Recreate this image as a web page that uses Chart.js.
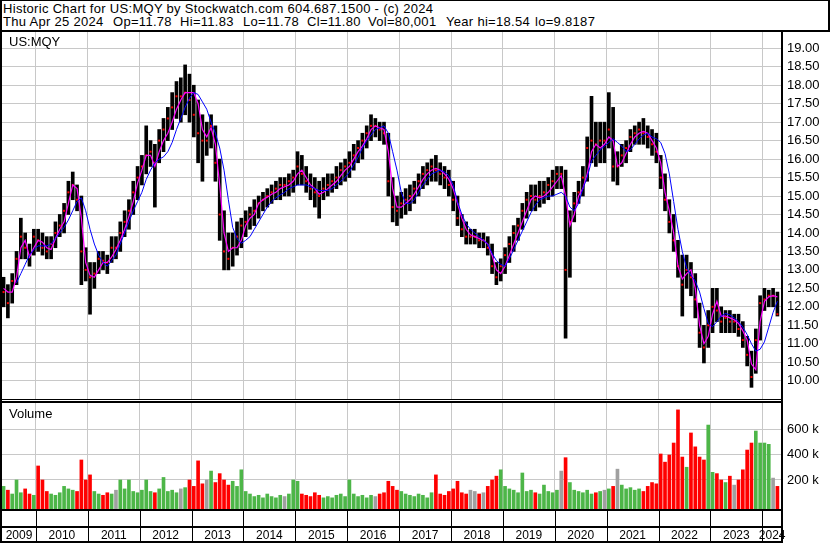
<!DOCTYPE html>
<html>
<head>
<meta charset="utf-8">
<script src="https://cdn.jsdelivr.net/npm/chart.js@4.4.1/dist/chart.umd.min.js"></script>
<style>
  html, body { margin: 0; padding: 0; background: #fff; }
  #page { position: relative; width: 830px; height: 543px; overflow: hidden;
          font-family: "Liberation Sans", Arial, sans-serif; color: #000; }
  .hd { position: absolute; white-space: pre; font-size: 13px; line-height: 13px; letter-spacing: 0.3px; }
  .lbl { position: absolute; white-space: pre; font-size: 13px; line-height: 13px; }
  .ln { position: absolute; background: #000; }
  canvas { position: absolute; left: 0; }
</style>
</head>
<body>
<div id="page">
  <canvas id="priceChart" width="830" height="368" style="top:32px"></canvas>
  <canvas id="volChart" width="830" height="140" style="top:403px"></canvas>

  <!-- header -->
  <div class="hd" style="left:3px;top:2px">Historic Chart for US:MQY by Stockwatch.com 604.687.1500 - (c) 2024</div>
  <div class="hd" style="left:3px;top:15px">Thu Apr 25 2024</div>
  <div class="hd" style="left:113px;top:15px">Op=11.78</div>
  <div class="hd" style="left:180px;top:15px">Hi=11.83</div>
  <div class="hd" style="left:243px;top:15px">Lo=11.78</div>
  <div class="hd" style="left:307px;top:15px">Cl=11.80</div>
  <div class="hd" style="left:368px;top:15px">Vol=80,001</div>
  <div class="hd" style="left:446px;top:15px">Year hi=18.54</div>
  <div class="hd" style="left:535px;top:15px">lo=9.8187</div>

  <div class="lbl" style="left:9px;top:35px">US:MQY</div>
  <div class="lbl" style="left:9px;top:407px">Volume</div>

  <!-- frame lines -->
  <div class="ln" style="left:0;top:0;width:830px;height:1px"></div>
  <div class="ln" style="left:828px;top:0;width:2px;height:32px"></div>
  <div class="ln" style="left:0;top:30px;width:830px;height:2px"></div>
  <div class="ln" style="left:0;top:0;width:2px;height:543px"></div>
  <div class="ln" style="left:781px;top:30px;width:2px;height:513px"></div>
  <div class="ln" style="left:0;top:399px;width:783px;height:1px"></div>
  <div class="ln" style="left:0;top:401px;width:783px;height:2px"></div>
  <div class="ln" style="left:0;top:509px;width:783px;height:2px"></div>
  <div class="ln" style="left:0;top:526px;width:783px;height:2px"></div>
  <div class="ln" style="left:0;top:541px;width:783px;height:2px"></div>
</div>

<script>
// monthly data, May 2009 .. Apr 2024
const startYear = 2009;
const startMonth = 5;

const highs = [
  12.8, 12.6, 12.9, 13.5, 14.4, 14.0, 13.7, 14.1,
  14.1, 14.0, 13.9, 13.9, 14.3, 14.5, 14.8, 15.4, 15.65, 15.3, 15.0, 13.6,
  13.2, 13.2, 13.5, 13.5, 13.4, 13.9, 13.9, 14.3, 14.6, 14.9, 15.4, 15.8,
  16.1, 16.9, 16.5, 16.4, 16.8, 17.1, 17.4, 17.8, 18.1, 18.2, 18.55, 18.3,
  18.0, 17.6, 17.2, 17.0, 17.2, 16.9, 16.0, 14.6, 14.0, 14.0, 14.3, 14.4,
  14.6, 14.7, 14.9, 15.0, 15.1, 15.2, 15.3, 15.4, 15.5, 15.5, 15.6, 15.7,
  16.2, 16.1, 15.8, 15.6, 15.5, 15.4, 15.5, 15.6, 15.6, 15.8, 15.9, 16.0,
  16.2, 16.4, 16.5, 16.7, 16.9, 17.2, 17.1, 17.0, 17.0, 16.7, 15.5, 15.0,
  15.1, 15.2, 15.3, 15.4, 15.6, 15.8, 15.9, 16.0, 16.1, 15.9, 15.8, 15.7,
  15.4, 15.0, 14.5, 14.3, 14.1, 14.1, 14.0, 14.0, 13.9, 13.7, 13.2, 13.3,
  13.6, 13.9, 14.2, 14.4, 14.8, 15.1, 15.3, 15.3, 15.4, 15.4, 15.5, 15.7,
  15.8, 15.8, 15.7, 14.6, 15.1, 15.4, 15.8, 16.6, 17.7, 17.0, 17.0, 17.0,
  17.8, 17.4, 16.2, 16.4, 16.5, 16.8, 16.9, 17.0, 17.1, 16.9, 16.8, 16.7,
  16.1, 15.6, 14.9, 14.5, 13.8, 13.4, 13.4, 13.2, 12.9, 12.1, 11.5, 11.9,
  12.5, 12.5, 12.0, 11.9, 11.9, 11.8, 11.8, 11.6, 11.2, 10.8, 11.4, 12.3,
  12.5, 12.45, 12.5, 12.4
];

const lows = [
  12.0, 11.7, 12.1, 12.6, 13.3, 13.3, 13.1, 13.4,
  13.5, 13.4, 13.3, 13.3, 13.6, 13.9, 14.0, 14.5, 14.9, 14.6, 12.6, 12.7,
  11.8, 12.5, 12.9, 13.0, 12.9, 13.2, 13.3, 13.5, 13.9, 14.1, 14.5, 14.9,
  15.3, 15.6, 15.8, 14.7, 15.9, 16.2, 16.5, 16.8, 17.1, 17.0, 17.2, 17.0,
  16.6, 15.9, 15.4, 16.1, 16.3, 15.4, 13.8, 13.0, 13.0, 13.1, 13.4, 13.6,
  13.9, 14.1, 14.2, 14.4, 14.6, 14.7, 14.8, 14.9, 14.9, 15.0, 15.0, 15.1,
  15.3, 15.3, 15.1, 14.9, 14.7, 14.4, 14.9, 15.0, 15.1, 15.2, 15.3, 15.4,
  15.5, 15.7, 15.9, 16.0, 16.3, 16.5, 16.6, 16.5, 16.4, 15.0, 14.3, 14.2,
  14.4, 14.5, 14.6, 14.8, 15.0, 15.2, 15.3, 15.4, 15.4, 15.3, 15.2, 15.0,
  14.6, 14.2, 13.9, 13.7, 13.7, 13.7, 13.6, 13.6, 13.4, 12.9, 12.6, 12.7,
  12.9, 13.2, 13.5, 13.8, 14.1, 14.4, 14.6, 14.6, 14.7, 14.8, 14.9, 15.0,
  15.2, 15.2, 11.15, 12.8, 14.3, 14.8, 15.0, 15.4, 15.9, 15.8, 15.9, 15.9,
  16.3, 15.4, 15.3, 15.8, 15.9, 16.2, 16.4, 16.4, 16.4, 16.3, 16.1, 15.9,
  15.2, 14.6, 14.0, 13.5, 12.8, 11.75, 12.5, 12.3, 11.7, 10.9, 10.48, 10.9,
  11.3, 11.6, 11.3, 11.3, 11.3, 11.3, 11.2, 10.9, 10.4, 9.82, 10.2, 11.1,
  11.9, 12.0, 12.0, 11.75
];

const closes = [
  12.4, 12.1, 12.7, 13.3, 13.9, 13.6, 13.4, 13.9,
  13.8, 13.6, 13.5, 13.7, 14.0, 14.2, 14.6, 15.1, 15.3, 14.9, 13.5, 13.0,
  12.8, 12.9, 13.3, 13.25, 13.2, 13.6, 13.6, 14.0, 14.3, 14.6, 15.1, 15.5,
  15.8, 16.1, 16.2, 15.9, 16.5, 16.8, 17.1, 17.4, 17.7, 17.7, 17.8, 17.6,
  17.2, 16.7, 16.5, 16.5, 16.9, 15.9, 14.5, 13.5, 13.3, 13.6, 13.9, 14.2,
  14.3, 14.5, 14.6, 14.8, 14.9, 15.0, 15.1, 15.2, 15.3, 15.3, 15.4, 15.5,
  15.8, 15.6, 15.4, 15.2, 15.1, 15.0, 15.2, 15.3, 15.4, 15.5, 15.7, 15.8,
  15.9, 16.1, 16.3, 16.5, 16.7, 16.9, 16.9, 16.8, 16.7, 15.4, 14.7, 14.6,
  14.8, 14.9, 15.0, 15.2, 15.4, 15.6, 15.7, 15.8, 15.7, 15.6, 15.5, 15.3,
  14.9, 14.4, 14.1, 13.9, 13.9, 13.9, 13.8, 13.8, 13.6, 13.1, 12.8, 13.1,
  13.4, 13.7, 14.0, 14.2, 14.6, 14.9, 15.0, 14.9, 15.0, 15.1, 15.3, 15.4,
  15.6, 15.6, 13.0, 14.3, 14.8, 15.1, 15.5, 16.3, 16.5, 16.4, 16.5, 16.5,
  16.8, 15.8, 15.8, 16.1, 16.3, 16.6, 16.7, 16.8, 16.7, 16.6, 16.4, 16.2,
  15.5, 14.9, 14.3, 13.8, 13.1, 12.6, 13.0, 12.8, 12.2, 11.3, 10.9, 11.5,
  12.0, 11.9, 11.6, 11.7, 11.6, 11.6, 11.4, 11.1, 10.7, 10.1, 11.1, 12.1,
  12.2, 12.3, 12.3, 11.8
];

// short moving average (magenta)
const maFast = [
  12.5, 12.4, 12.4, 12.8, 13.6, 13.8, 13.35, 13.6,
  13.8, 13.75, 13.6, 13.55, 13.85, 14.1, 14.3, 14.8, 15.3, 15.2, 14.4, 13.2,
  12.85, 12.8, 13.0, 13.2, 13.2, 13.35, 13.55, 13.8, 14.1, 14.45, 14.85, 15.35,
  15.7, 16.1, 16.1, 15.8, 16.2, 16.5, 16.7, 17.0, 17.35, 17.6, 17.8, 17.8,
  17.8, 17.5, 16.8, 16.6, 16.85, 16.4, 15.3, 14.0, 13.5, 13.6, 13.6, 13.8,
  14.2, 14.4, 14.5, 14.8, 14.9, 14.97, 15.05, 15.1, 15.2, 15.25, 15.3, 15.4,
  15.6, 15.7, 15.5, 15.3, 15.2, 15.05, 15.1, 15.2, 15.3, 15.4, 15.55, 15.7,
  15.8, 16.0, 16.2, 16.35, 16.55, 16.8, 16.9, 16.85, 16.8, 16.2, 15.2, 14.7,
  14.7, 14.8, 14.9, 15.05, 15.25, 15.45, 15.6, 15.7, 15.75, 15.7, 15.6, 15.45,
  15.2, 14.8, 14.4, 14.1, 13.95, 13.9, 13.85, 13.8, 13.7, 13.4, 13.0, 12.9,
  13.1, 13.4, 13.7, 14.0, 14.3, 14.6, 14.9, 15.0, 14.95, 15.0, 15.1, 15.25,
  15.4, 15.55, 15.0, 14.2, 14.5, 15.0, 15.2, 15.6, 16.2, 16.4, 16.3, 16.4,
  16.6, 16.5, 15.8, 15.9, 16.15, 16.4, 16.6, 16.7, 16.75, 16.7, 16.5, 16.3,
  15.9, 15.1, 14.6, 14.0, 13.1, 12.75, 12.9, 13.0, 12.5, 11.5, 11.0, 11.2,
  11.8, 12.15, 11.75, 11.75, 11.7, 11.65, 11.55, 11.35, 11.1, 10.45, 10.3, 11.6,
  12.15, 12.27, 12.3, 12.27
];

// long moving average (blue)
const maSlow = [
  null, null, null, 12.65, 12.9, 13.15, 13.4, 13.55,
  13.65, 13.65, 13.65, 13.7, 13.85, 14.0, 14.15, 14.35, 14.6, 14.85, 14.95, 14.6,
  14.1, 13.7, 13.4, 13.2, 13.1, 13.25, 13.4, 13.7, 14.0, 14.3, 14.6, 14.85,
  15.1, 15.45, 15.7, 15.9, 16.0, 16.06, 16.2, 16.45, 16.8, 17.1, 17.4, 17.65,
  17.8, 17.75, 17.55, 17.35, 17.0, 16.7, 16.3, 15.7, 14.9, 14.15, 13.85, 13.72,
  13.8, 13.9, 14.1, 14.3, 14.5, 14.7, 14.85, 14.95, 15.03, 15.1, 15.2, 15.25,
  15.3, 15.3, 15.3, 15.25, 15.2, 15.15, 15.15, 15.15, 15.2, 15.3, 15.4, 15.5,
  15.65, 15.85, 16.05, 16.3, 16.5, 16.65, 16.8, 16.85, 16.9, 16.7, 16.2, 15.7,
  15.1, 14.8, 14.8, 14.9, 15.1, 15.3, 15.45, 15.6, 15.65, 15.7, 15.65, 15.55,
  15.3, 14.85, 14.5, 14.25, 14.1, 14.0, 13.9, 13.8, 13.7, 13.45, 13.25, 13.15,
  13.1, 13.3, 13.55, 13.8, 14.05, 14.3, 14.55, 14.75, 14.9, 14.95, 15.0, 15.0,
  15.05, 15.1, 15.0, 14.7, 14.6, 14.8, 15.2, 15.5, 15.95, 16.1, 16.25, 16.35,
  16.45, 16.55, 16.45, 16.35, 16.2, 16.25, 16.4, 16.55, 16.65, 16.7, 16.6, 16.55,
  16.45, 16.15, 15.6, 14.85, 14.1, 13.5, 13.05, 12.85, 12.7, 12.4, 11.95, 11.55,
  11.46, 11.6, 11.75, 11.82, 11.78, 11.7, 11.6, 11.45, 11.25, 11.0, 10.8, 10.85,
  11.05, 11.45, 11.85, 12.15
];

// volume, shares
const volumes = [
  150000, 120000, 90000, 200000, 100000, 130000, 90000, 80000,
  310000, 200000, 110000, 90000, 80000, 100000, 150000, 130000, 120000, 110000, 357000, 200000,
  240000, 110000, 90000, 80000, 100000, 90000, 120000, 200000, 130000, 200000, 110000, 100000,
  120000, 200000, 110000, 100000, 130000, 220000, 110000, 120000, 100000, 130000, 140000, 200000,
  150000, 350000, 170000, 200000, 270000, 180000, 250000, 200000, 160000, 190000, 150000, 280000,
  110000, 90000, 70000, 80000, 60000, 90000, 70000, 60000, 80000, 70000, 90000, 200000,
  190000, 90000, 80000, 70000, 100000, 80000, 60000, 70000, 60000, 80000, 90000, 70000,
  200000, 90000, 70000, 80000, 60000, 80000, 70000, 90000, 100000, 190000, 150000, 120000,
  110000, 90000, 80000, 70000, 90000, 80000, 60000, 100000, 240000, 90000, 80000, 110000,
  130000, 190000, 100000, 90000, 120000, 110000, 90000, 100000, 150000, 200000, 230000, 280000,
  150000, 130000, 120000, 100000, 255000, 110000, 120000, 100000, 90000, 160000, 110000, 100000,
  120000, 270000, 375000, 180000, 120000, 110000, 100000, 120000, 90000, 100000, 110000, 120000,
  130000, 150000, 285000, 160000, 130000, 140000, 120000, 130000, 110000, 150000, 180000, 170000,
  404000, 340000, 396000, 490000, 750000, 380000, 300000, 569000, 460000, 380000, 357000, 631000,
  260000, 250000, 200000, 180000, 230000, 160000, 200000, 280000, 435000, 490000, 584000, 490000,
  490000, 480000, 215000, 150000
];

const yearTicks = [2010, 2011, 2012, 2013, 2014, 2015, 2016, 2017, 2018, 2019, 2020, 2021, 2022, 2023, 2024];
const yearLabels = ['2009', '2010', '2011', '2012', '2013', '2014', '2015', '2016', '2017', '2018', '2019', '2020', '2021', '2022', '2023', '2024'];
const priceTicks = [10, 10.5, 11, 11.5, 12, 12.5, 13, 13.5, 14, 14.5, 15, 15.5, 16, 16.5, 17, 17.5, 18, 18.5, 19];
const volTicks = [200000, 400000, 600000];

const xMin = 2009.345, xMax = 2024.38;
const priceMin = 9.477, priceMax = 19.441;
const volMin = -27500, volMax = 804000;

const FONT = "'Liberation Sans', Arial, sans-serif";
Chart.defaults.font.family = FONT;
Chart.defaults.color = '#000';

const monthX = closes.map((_, i) => startYear + (startMonth - 1 + i + 0.5) / 12);
const pts = arr => monthX.map((x, i) => ({ x: x, y: arr[i] }));

const volColors = closes.map((c, i) => {
    if (i === 0 || c > closes[i - 1]) return '#4db648';
    if (c < closes[i - 1]) return '#ff0000';
    return '#a0a0a0';
});

// year labels sit in the middle of the visible part of each year box
const labelTicks = yearLabels.map((lab, i) => {
    const y = Number(lab);
    const a = Math.max(y, xMin), b = Math.min(y + 1, xMax);
    return { value: (a + b) / 2, yr: lab };
});

const stripDividers = {
    id: 'stripDividers',
    afterDraw(chart) {
        const { ctx, chartArea, scales } = chart;
        ctx.save();
        ctx.strokeStyle = '#000';
        ctx.lineWidth = 1;
        yearTicks.forEach(v => {
            const px = Math.round(scales.x.getPixelForValue(v)) + 0.5;
            ctx.beginPath();
            ctx.moveTo(px, chartArea.bottom);
            ctx.lineTo(px, chart.height);
            ctx.stroke();
        });
        ctx.restore();
    }
};

const baseOpts = {
    responsive: false,
    animation: false,
    devicePixelRatio: 1,
    layout: { padding: { left: 2, right: 0, top: 0, bottom: 0 }, autoPadding: false },
    plugins: { legend: { display: false }, tooltip: { enabled: false } }
};

new Chart(document.getElementById('priceChart'), {
    type: 'bar',
    data: {
        datasets: [
            { type: 'line', data: pts(maSlow), borderColor: '#0000ff', borderWidth: 1,
              pointRadius: 0, spanGaps: false, order: 1 },
            { type: 'line', data: pts(maFast), borderColor: '#ff00ff', borderWidth: 1.2,
              pointRadius: 0, order: 2 },
            { type: 'line', data: pts(closes), showLine: false, pointStyle: 'rect',
              pointRadius: 1.4, pointBackgroundColor: '#ff0000', pointBorderWidth: 0, order: 3 },
            { type: 'bar', data: monthX.map((x, i) => ({ x: x, y: [lows[i], highs[i]] })),
              backgroundColor: '#000000', barThickness: 3, order: 4 }
        ]
    },
    options: Object.assign({}, baseOpts, {
        scales: {
            x: {
                type: 'linear', min: xMin, max: xMax, offset: false,
                grid: { color: '#c8c8c8', lineWidth: 1, drawTicks: false, offset: false },
                border: { display: false },
                ticks: { display: false },
                afterBuildTicks: s => { s.ticks = yearTicks.map(v => ({ value: v })); },
                afterFit: s => { s.height = 0; s.paddingLeft = 0; s.paddingRight = 0; }
            },
            y: {
                position: 'right', min: priceMin, max: priceMax,
                grid: { color: '#c8c8c8', lineWidth: 1, drawTicks: false },
                border: { display: false },
                ticks: { font: { size: 13 }, color: '#000', padding: 5, autoSkip: false,
                         callback: v => Number(v).toFixed(2) },
                afterBuildTicks: s => { s.ticks = priceTicks.map(v => ({ value: v })); },
                afterFit: s => { s.width = 48; s.paddingTop = 0; s.paddingBottom = 0; }
            }
        }
    })
});

new Chart(document.getElementById('volChart'), {
    type: 'bar',
    data: {
        datasets: [{
            data: pts(volumes),
            backgroundColor: volColors,
            barThickness: 3,
            base: volMin
        }]
    },
    options: Object.assign({}, baseOpts, {
        scales: {
            x: {
                type: 'linear', min: xMin, max: xMax, offset: false,
                grid: {
                    color: c => (c.tick && yearTicks.includes(c.tick.value)) ? '#c8c8c8' : 'rgba(0,0,0,0)',
                    lineWidth: 1, drawTicks: false, offset: false
                },
                border: { display: false },
                ticks: {
                    font: { size: 12 }, color: '#000', padding: 19, autoSkip: false,
                    maxRotation: 0, minRotation: 0,
                    callback: (v, i, ticks) => ticks[i].yr || ''
                },
                afterBuildTicks: s => {
                    s.ticks = yearTicks.map(v => ({ value: v, yr: '' }))
                        .concat(labelTicks.map(t => ({ value: t.value, yr: t.yr })))
                        .sort((a, b) => a.value - b.value);
                },
                afterFit: s => { s.height = 34; s.paddingLeft = 0; s.paddingRight = 0; }
            },
            y: {
                position: 'right', min: volMin, max: volMax,
                grid: { color: '#c8c8c8', lineWidth: 1, drawTicks: false },
                border: { display: false },
                ticks: { font: { size: 13 }, color: '#000', padding: 5, autoSkip: false,
                         callback: v => (v / 1000) + ' k' },
                afterBuildTicks: s => { s.ticks = volTicks.map(v => ({ value: v })); },
                afterFit: s => { s.width = 48; s.paddingTop = 0; s.paddingBottom = 0; }
            }
        }
    }),
    plugins: [stripDividers]
});
</script>
</body>
</html>
